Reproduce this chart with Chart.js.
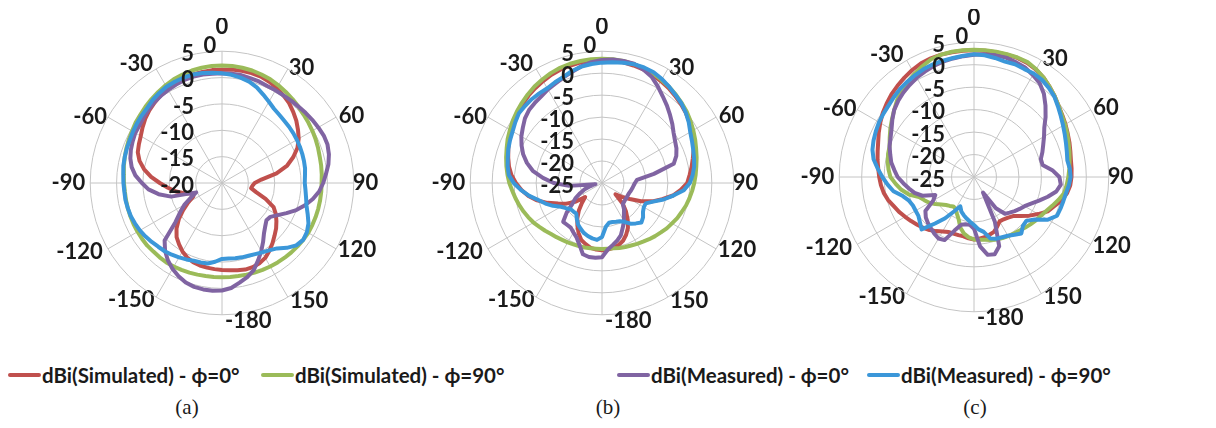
<!DOCTYPE html>
<html>
<head>
<meta charset="utf-8">
<script src="https://cdn.jsdelivr.net/npm/chart.js@4.4.1/dist/chart.umd.min.js"></script>
<style>
  html, body { margin:0; padding:0; background:#ffffff; }
  #page { position:relative; width:1216px; height:428px; overflow:hidden; background:#ffffff; }
  .polar { position:absolute; }
  .leg { position:absolute; top:363px; height:24px; display:flex; align-items:center;
         font-family:Lato, "DejaVu Sans", sans-serif; font-weight:700; font-size:20.5px; color:#1a1a1a; white-space:nowrap; }
  .leg i { display:inline-block; width:33px; height:4px; margin-right:1px; border-radius:2px; }
  .cap { position:absolute; top:395px; width:60px; text-align:center; line-height:24px;
         font-family:"Liberation Serif", "Times New Roman", serif; font-size:21px; color:#1a1a1a; }
</style>
</head>
<body>
<div id="page">
  <canvas id="chartA" class="polar" width="400" height="312" style="left:22px;top:18px;width:400px;height:312px"></canvas>
  <canvas id="chartB" class="polar" width="400" height="312" style="left:402px;top:18px;width:400px;height:312px"></canvas>
  <canvas id="chartC" class="polar" width="400" height="318" style="left:774px;top:9px;width:400px;height:318px"></canvas>
  <div id="legend"></div>
  <div class="cap" style="left:157px">(a)</div>
  <div class="cap" style="left:578px">(b)</div>
  <div class="cap" style="left:945px">(c)</div>
</div>
<script>
// ---- categories (angle in degrees, clockwise from top) ----
const angleCategories = [0,5,10,15,20,25,30,35,40,45,50,55,60,65,70,75,80,85,90,95,100,105,110,115,120,125,130,135,140,145,150,155,160,165,170,175,
  -180,-175,-170,-165,-160,-155,-150,-145,-140,-135,-130,-125,-120,-115,-110,-105,-100,-95,-90,-85,-80,-75,-70,-65,-60,-55,-50,-45,-40,-35,-30,-25,-20,-15,-10,-5];
const spokeLabels = ['0','30','60','90','120','150','-150','-120','-90','-60','-30'];
const bottomSpokeLabel = '-180';
const spokePadding = {'0':24,'30':1.5,'60':3,'90':-1,'120':2,'150':4,'-180':5.5,'-150':3,'-120':6,'-90':5,'-60':1,'-30':6};
const topExtraLabel = '0';
const seriesNames = ['dBi(Simulated) - \u03D5=0\u00B0','dBi(Simulated) - \u03D5=90\u00B0','dBi(Measured) - \u03D5=0\u00B0','dBi(Measured) - \u03D5=90\u00B0'];
const seriesColors = ['#C0504D','#9BBB59','#8064A2','#3B97D9'];
const legendLeft = [8, 261, 617, 867];
const rMinA = -20, rMinB = -25, rMinC = -25, rMax = 5, rStep = 5;

// ---- (a) ----
const simPhi0A = [1.5,1.6,1.6,1.6,1.5,1.2,0.8,0.3,-0.2,-0.9,-1.6,-2.4,-3.2,-4.2,-5.6,-7.2,-9.5,-12.5,-13.8,-14.2,-14.4,-13.3,-11.2,-9.2,-8.2,-7.4,-6.6,-5.9,-5.1,-4.3,-3.6,-3.2,-3.0,-3.0,-3.2,-3.4,
  -3.5,-3.6,-3.7,-3.8,-4.0,-4.4,-5.0,-5.8,-6.6,-7.8,-9.3,-11.0,-12.6,-14.0,-14.2,-12.5,-11.0,-9.7,-8.2,-6.5,-5.0,-3.8,-3.0,-2.6,-2.2,-1.6,-1.0,-0.5,-0.1,0.3,0.7,1.0,1.2,1.3,1.4,1.5];
const simPhi90A = [2.3,2.3,2.2,2.1,1.9,1.7,1.4,1.1,0.8,0.5,0.2,0.0,-0.2,-0.4,-0.6,-0.8,-0.9,-1.0,-1.1,-1.1,-1.1,-1.1,-1.1,-1.1,-1.1,-1.2,-1.3,-1.4,-1.5,-1.6,-1.7,-1.8,-1.9,-2.0,-2.1,-2.1,
  -2.1,-2.1,-2.1,-2.0,-1.9,-1.8,-1.7,-1.6,-1.6,-1.6,-1.5,-1.5,-1.5,-1.5,-1.5,-1.5,-1.5,-1.5,-1.4,-1.3,-1.1,-0.9,-0.7,-0.5,-0.3,0.0,0.2,0.5,0.8,1.1,1.4,1.7,1.9,2.1,2.2,2.3];
const measPhi0A = [0.8,0.8,0.8,0.6,0.5,0.3,0.3,0.3,0.4,0.5,0.7,0.9,1.1,1.3,1.3,1.0,0.5,-0.2,-0.8,-1.5,-2.5,-3.7,-5.0,-6.5,-7.8,-8.8,-9.0,-8.4,-7.6,-6.4,-5.1,-3.8,-2.4,-1.5,-0.8,0.0,
  0.4,0.5,0.5,0.4,0.1,-0.5,-1.2,-2.1,-3.2,-4.6,-8.5,-10.3,-11.8,-13.5,-14.8,-10.0,-7.8,-6.0,-4.8,-3.5,-2.6,-2.0,-1.6,-1.3,-1.0,-0.9,-0.6,-0.3,0.0,0.2,0.4,0.6,0.8,0.9,0.9,0.8];
const measPhi90A = [0.8,0.6,0.3,-0.1,-0.7,-1.5,-2.2,-2.8,-3.1,-3.3,-3.4,-3.5,-3.6,-3.7,-3.8,-3.9,-4.0,-4.2,-4.3,-4.1,-3.8,-3.4,-2.7,-1.9,-1.4,-1.2,-1.6,-2.6,-3.8,-4.4,-4.8,-5.1,-5.3,-5.4,-5.5,-5.6,
  -5.6,-5.0,-4.5,-4.4,-4.3,-4.0,-3.7,-3.4,-3.1,-2.9,-2.6,-2.3,-2.0,-1.8,-1.6,-1.5,-1.4,-1.4,-1.3,-1.2,-1.0,-0.9,-0.8,-0.7,-0.5,-0.3,-0.1,0.1,0.5,0.8,1.1,1.2,1.3,1.3,1.2,1.0];

// ---- (b) ----
const simPhi0B = [3.0,3.0,2.9,2.7,2.5,2.2,1.8,1.4,0.9,0.4,-0.1,-0.7,-1.3,-2.0,-2.8,-3.6,-4.3,-5.0,-5.6,-7.0,-8.6,-10.8,-12.8,-15.2,-17.7,-19.5,-21.0,-18.3,-16.5,-14.8,-13.2,-12.0,-11.0,-10.4,-10.0,-9.8,
  -9.7,-9.8,-10.0,-10.6,-11.2,-12.4,-13.8,-15.2,-16.8,-18.5,-20.0,-17.5,-15.6,-14.0,-11.8,-9.7,-8.0,-6.6,-5.4,-4.3,-3.5,-2.9,-2.3,-1.7,-1.1,-0.5,0.0,0.5,1.0,1.4,1.8,2.2,2.5,2.7,2.9,3.0];
const simPhi90B = [3.3,3.3,3.2,3.0,2.8,2.5,2.1,1.7,1.2,0.7,0.2,-0.4,-1.0,-1.6,-2.2,-2.7,-3.2,-3.6,-4.0,-4.4,-4.8,-5.2,-5.7,-6.1,-6.6,-7.0,-7.5,-7.9,-8.3,-8.7,-9.0,-9.3,-9.5,-9.7,-9.9,-10.0,
  -10.0,-10.0,-9.9,-9.8,-9.7,-9.6,-9.4,-9.2,-8.9,-8.6,-8.1,-7.6,-7.0,-6.5,-6.0,-5.5,-5.0,-4.5,-3.9,-3.4,-2.9,-2.4,-1.9,-1.3,-0.8,-0.2,0.3,0.8,1.3,1.8,2.2,2.6,2.9,3.1,3.2,3.3];
const measPhi0B = [3.0,3.2,3.2,3.1,2.5,1.7,0.4,-0.9,-2.0,-3.1,-4.1,-5.1,-5.8,-6.3,-7.0,-8.1,-13.0,-17.0,-17.5,-17.8,-18.0,-18.2,-18.4,-18.5,-18.5,-18.5,-18.4,-18.3,-17.2,-16.3,-15.0,-13.8,-12.4,-11.5,-10.7,-9.8,
  -8.1,-7.9,-7.9,-8.2,-10.0,-11.3,-12.0,-12.6,-12.6,-12.5,-14.5,-16.8,-18.0,-19.5,-20.8,-22.3,-23.5,-17.5,-14.0,-11.5,-9.0,-7.3,-5.9,-4.8,-3.8,-3.0,-2.1,-1.5,-1.2,-0.9,-0.4,0.0,0.6,1.2,2.0,2.6];
const measPhi90B = [2.4,2.6,2.8,3.0,3.0,2.8,2.3,1.7,1.1,0.6,-0.1,-0.9,-1.8,-2.4,-2.9,-3.3,-3.7,-4.3,-5.0,-6.3,-8.5,-10.5,-12.6,-14.0,-14.0,-13.6,-12.8,-12.3,-13.0,-13.7,-14.8,-15.4,-15.6,-15.8,-15.8,-15.0,
  -12.7,-12.0,-12.2,-12.5,-12.9,-13.5,-14.1,-15.0,-15.9,-15.8,-15.7,-15.0,-14.2,-12.7,-11.3,-10.0,-8.2,-6.5,-4.9,-3.7,-3.2,-2.8,-2.3,-1.9,-1.5,-0.9,-0.3,-0.2,-0.1,-0.1,-0.1,0.3,0.7,1.4,1.9,2.2];

// ---- (c) ----
const simPhi0C = [3.2,3.2,3.2,3.2,3.2,3.0,2.6,2.0,1.2,0.4,-0.4,-1.0,-1.5,-2.0,-2.4,-2.8,-3.1,-3.2,-3.3,-3.5,-4.0,-4.8,-6.0,-6.9,-8.5,-10.0,-11.5,-12.7,-13.2,-13.5,-13.6,-12.8,-12.0,-11.7,-11.4,-11.2,
  -11.1,-11.3,-11.6,-11.6,-11.6,-11.5,-11.0,-10.3,-9.6,-9.0,-8.5,-7.9,-7.3,-6.6,-6.0,-5.2,-4.6,-4.2,-3.9,-3.6,-3.2,-2.8,-2.3,-1.6,-0.9,-0.2,0.4,1.0,1.5,2.0,2.5,2.9,3.1,3.2,3.2,3.2];
const simPhi90C = [3.3,3.3,3.3,3.3,3.3,3.2,2.7,2.0,1.2,0.4,-0.4,-1.1,-1.6,-2.1,-2.6,-3.0,-3.4,-3.7,-4.0,-4.3,-4.6,-5.5,-6.4,-7.2,-7.8,-8.2,-8.6,-9.0,-9.4,-9.6,-9.8,-10.0,-10.2,-10.5,-10.8,-11.0,
  -11.1,-11.5,-12.2,-13.3,-15.0,-16.0,-16.8,-17.0,-16.6,-16.2,-15.5,-14.5,-13.5,-12.8,-12.0,-10.0,-8.6,-7.5,-6.4,-5.9,-5.5,-5.2,-5.0,-4.3,-3.5,-2.7,-1.8,-0.8,0.1,0.8,1.5,2.2,2.9,3.2,3.3,3.3];
const measPhi0C = [2.2,2.4,2.5,2.5,2.2,1.9,1.2,0.5,-0.8,-2.5,-4.2,-5.9,-7.0,-8.0,-8.8,-9.6,-9.5,-7.5,-6.0,-5.6,-6.4,-8.0,-9.6,-11.0,-12.0,-12.6,-13.2,-13.8,-14.3,-16.5,-21.0,-14.0,-8.6,-7.2,-7.4,-9.5,
  -13.5,-14.3,-14.3,-14.0,-12.3,-9.5,-9.2,-9.6,-10.1,-10.5,-11.0,-11.8,-14.5,-15.5,-12.8,-11.3,-10.3,-9.2,-8.0,-7.2,-6.3,-5.7,-5.0,-4.5,-3.8,-2.8,-1.8,-1.1,-0.5,0.0,0.5,0.9,1.3,1.6,1.8,2.0];
const measPhi90C = [2.3,2.2,1.9,1.6,1.7,1.5,1.6,1.4,0.9,0.3,-0.6,-1.4,-2.1,-2.7,-3.2,-3.6,-3.9,-3.6,-3.5,-3.8,-4.2,-4.4,-4.5,-4.6,-6.0,-8.5,-9.8,-9.6,-8.6,-9.3,-9.9,-10.2,-10.4,-10.8,-12.6,-13.3,
  -14.3,-15.0,-15.6,-16.2,-16.8,-17.8,-16.2,-13.8,-11.5,-8.5,-9.3,-9.9,-10.0,-10.0,-9.6,-8.6,-6.8,-5.7,-4.6,-3.5,-2.3,-1.6,-1.2,-0.9,-0.6,-0.4,-0.2,0.2,0.6,0.9,1.2,1.5,1.7,1.8,1.9,2.1];

// ---- legend (HTML text) ----
const legendBox = document.getElementById('legend');
seriesNames.forEach((name, i) => {
  const d = document.createElement('div');
  d.className = 'leg';
  d.style.left = legendLeft[i] + 'px';
  const sw = document.createElement('i');
  sw.style.background = seriesColors[i];
  d.appendChild(sw);
  d.appendChild(document.createTextNode(name));
  legendBox.appendChild(d);
});

const labelFont = { family: 'Lato', weight: 'bold', size: 22 };
const textColor = '#1a1a1a';
const gridColor = '#c4c4c4';

// radial value labels (left of the vertical axis) and the bottom spoke label, placed with the chart's own radial scale
const ringLabelPlugin = {
  id: 'ringLabels',
  afterDraw(chart, args, opts) {
    const s = chart.scales.r;
    const ctx = chart.ctx;
    ctx.save();
    ctx.font = 'bold ' + labelFont.size + 'px ' + labelFont.family;
    ctx.fillStyle = textColor;
    ctx.textBaseline = 'middle';
    ctx.textAlign = 'right';
    s.ticks.forEach(t => {
      const d = s.getDistanceFromCenterForValue(t.value);
      ctx.fillText(String(t.value), s.xCenter - opts.gap, s.yCenter - d + 2.5);
    });
    ctx.textAlign = 'center';
    ctx.fillText(topExtraLabel, s.xCenter - 12, s.yCenter - s.drawingArea - 5);
    // bottom spoke label, set just right of the vertical axis as in the original
    const bIdx = angleCategories.indexOf(Number(bottomSpokeLabel));
    const p = s.getPointPosition(bIdx, s.drawingArea + 6.5);
    ctx.textAlign = 'left';
    ctx.fillText(bottomSpokeLabel, p.x + 3, p.y);
    ctx.restore();
  }
};

function makeChart(id, minVal, series, gap) {
  const datasets = series.map((vals, i) => ({
    label: seriesNames[i],
    data: vals,
    borderColor: seriesColors[i],
    backgroundColor: seriesColors[i],
    borderWidth: 4,
    pointRadius: 0,
    pointHoverRadius: 0,
    fill: false,
    tension: 0,
    borderJoinStyle: 'round',
    order: 3 - i
  }));
  return new Chart(document.getElementById(id), {
    type: 'radar',
    data: { labels: angleCategories, datasets },
    options: {
      responsive: false,
      animation: false,
      devicePixelRatio: 1,
      layout: { padding: 0 },
      plugins: { legend: { display: false }, tooltip: { enabled: false }, ringLabels: { gap } },
      scales: {
        r: {
          min: minVal,
          max: rMax,
          ticks: { stepSize: rStep, display: false },
          grid: { circular: true, color: gridColor, lineWidth: 1 },
          angleLines: { color: gridColor, lineWidth: (c) => (c.index % 6 === 0 ? 1 : 0) },
          pointLabels: {
            display: true,
            callback: (lbl) => (spokeLabels.includes(String(lbl)) ? String(lbl) : ''),
            padding: (c) => {
              const key = String(angleCategories[c.index]);
              return spokePadding[key] !== undefined ? spokePadding[key] : 0;
            },
            font: { family: labelFont.family, weight: labelFont.weight, size: labelFont.size, lineHeight: 0.01 },
            color: textColor
          }
        }
      }
    },
    plugins: [ringLabelPlugin]
  });
}

makeChart('chartA', rMinA, [simPhi0A, simPhi90A, measPhi0A, measPhi90A], 28);
makeChart('chartB', rMinB, [simPhi0B, simPhi90B, measPhi0B, measPhi90B], 28);
makeChart('chartC', rMinC, [simPhi0C, simPhi90C, measPhi0C, measPhi90C], 29);
</script>
</body>
</html>
